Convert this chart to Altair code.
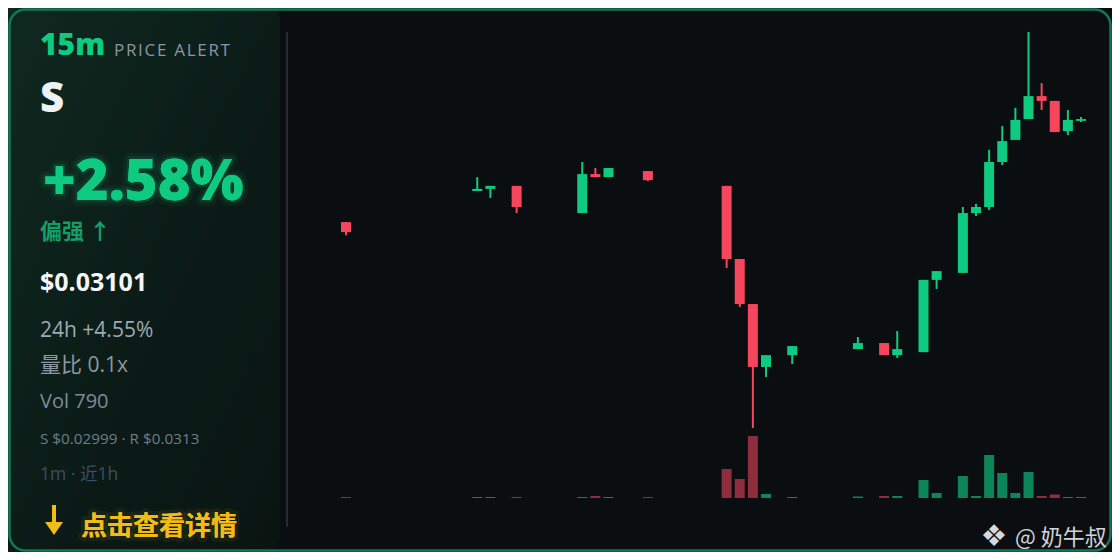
import altair as alt
import pandas as pd

# ---- data ----
idx = [0, 10, 11, 13, 18, 19, 20, 23, 29, 30, 31, 32, 34, 39, 41, 42, 44, 45,
       47, 48, 49, 50, 51, 52, 53, 54, 55, 56]
open_ = [0.030671, 0.030774, 0.030781, 0.030791, 0.030701, 0.030830, 0.030820, 0.030840,
         0.030791, 0.030549, 0.030400, 0.030192, 0.030231, 0.030251, 0.030271, 0.030231,
         0.030241, 0.030480, 0.030503, 0.030701, 0.030721, 0.030870, 0.030943, 0.031012,
         0.031088, 0.031072, 0.030972, 0.031006]
high = [0.030671, 0.030820, 0.030791, 0.030791, 0.030870, 0.030850, 0.030850, 0.030840,
        0.030791, 0.030549, 0.030400, 0.030231, 0.030261, 0.030291, 0.030271, 0.030311,
        0.030480, 0.030509, 0.030721, 0.030731, 0.030910, 0.030989, 0.031049, 0.031300,
        0.031131, 0.031072, 0.031042, 0.031019]
low = [0.030628, 0.030774, 0.030751, 0.030701, 0.030701, 0.030820, 0.030820, 0.030807,
       0.030519, 0.030390, 0.029990, 0.030159, 0.030202, 0.030251, 0.030231, 0.030222,
       0.030241, 0.030450, 0.030503, 0.030691, 0.030711, 0.030860, 0.030943, 0.031012,
       0.031042, 0.030969, 0.030959, 0.031002]
close = [0.030638, 0.030781, 0.030791, 0.030721, 0.030830, 0.030820, 0.030850, 0.030810,
         0.030549, 0.030400, 0.030192, 0.030231, 0.030261, 0.030271, 0.030231, 0.030251,
         0.030480, 0.030509, 0.030701, 0.030721, 0.030870, 0.030939, 0.031009, 0.031088,
         0.031072, 0.030969, 0.031009, 0.031012]
volume = [100, 100, 100, 100, 100, 200, 100, 100, 2900, 1900, 6200, 400, 100, 150, 200, 200,
          1800, 500, 2200, 200, 4300, 2500, 500, 2600, 200, 350, 100, 100]

symbol = "S"
timeframe = "15m"
change_pct = "+2.58%"
bias = "偏强 ↑"
price = "$0.03101"
change_24h = "24h +4.55%"
vol_ratio = "量比 0.1x"
vol_text = "Vol 790"
sr_text = "S $0.02999 · R $0.0313"
window_text = "1m · 近1h"
cta = "点击查看详情"
watermark = "@ 奶牛叔"

price_min, price_max = 0.02999, 0.0313

df = pd.DataFrame({"i": idx, "open": open_, "high": high, "low": low,
                   "close": close, "vol": volume})
one = pd.DataFrame({"k": [0]})

GREEN = "#0ecb81"
RED = "#f6465d"
GREEN_V = "#0d855a"
RED_V = "#8f2c3d"
YELLOW = "#f3bb15"
LATIN = "Open Sans, Noto Sans CJK SC, sans-serif"
CJK = "Noto Sans CJK SC, Open Sans, sans-serif"

xs = alt.Scale(domain=[0, 56], range=[338, 1073], zero=False, nice=False, padding=0)
ys = alt.Scale(domain=[price_min, price_max], range=[420, 24], zero=False, nice=False)
vs = alt.Scale(domain=[0, 6200], range=[490, 428], zero=False, nice=False)

up = "datum.close >= datum.open"

card = alt.Chart(one).mark_rect(
    cornerRadius=20,
    fill=alt.Gradient(gradient="linear",
                      stops=[alt.GradientStop(color="#0f2920", offset=0),
                             alt.GradientStop(color="#0b1a16", offset=0.6),
                             alt.GradientStop(color="#0a1512", offset=1)],
                      x1=0, y1=0, x2=1, y2=1),
).encode(x=alt.value(-8), x2=alt.value(272), y=alt.value(-8), y2=alt.value(548))

frame = alt.Chart(one).mark_rect(
    cornerRadius=16, fillOpacity=0, stroke="#147652", strokeWidth=2.5,
).encode(x=alt.value(1.5), x2=alt.value(1102.5), y=alt.value(1.5), y2=alt.value(542.5))

divider = alt.Chart(one).mark_rule(color="#262b30", strokeWidth=2).encode(
    x=alt.value(279), y=alt.value(24), y2=alt.value(519))

wick = alt.Chart(df).mark_rule(strokeWidth=2).encode(
    x=alt.X("i:Q", scale=xs, axis=None),
    y=alt.Y("low:Q", scale=ys, axis=None),
    y2="high:Q",
    color=alt.condition(up, alt.value(GREEN), alt.value(RED)),
)
body = alt.Chart(df).mark_bar(size=10).encode(
    x=alt.X("i:Q", scale=xs, axis=None),
    y=alt.Y("open:Q", scale=ys, axis=None),
    y2="close:Q",
    color=alt.condition(up, alt.value(GREEN), alt.value(RED)),
)
vol = alt.Chart(df).mark_bar(size=10).encode(
    x=alt.X("i:Q", scale=xs, axis=None),
    y=alt.Y("vol:Q", scale=vs, axis=None),
    color=alt.condition(up, alt.value(GREEN_V), alt.value(RED_V)),
)


def txt(s, x, y, size, color, weight="normal", font=LATIN, align="left",
        baseline="alphabetic", **kw):
    return alt.Chart(one).mark_text(
        text=s, fontSize=size, color=color, fontWeight=weight, font=font,
        align=align, baseline=baseline, **kw
    ).encode(x=alt.value(x), y=alt.value(y))


arrow_shaft = alt.Chart(one).mark_rule(color=YELLOW, strokeWidth=4).encode(
    x=alt.value(46), y=alt.value(497), y2=alt.value(515))
arrow_head = alt.Chart(one).mark_point(
    shape="M -1 -0.72 L 1 -0.72 L 0 0.72 Z", size=324, filled=True,
    color=YELLOW, opacity=1,
).encode(x=alt.value(46), y=alt.value(520.5))

texts = [
    txt(timeframe, 32, 47, 30, GREEN, weight=800),
    txt("P\u200aR\u200aI\u200aC\u200aE\u200a \u200aA\u200aL\u200aE\u200aR\u200aT", 106, 48, 17, "#8b97a2"),
    txt(symbol, 32, 104, 42, "#eef2f3", weight=800),
    txt(change_pct, 35, 192, 56, GREEN, weight=800, stroke=GREEN, strokeWidth=12,
        strokeOpacity=0.06, strokeJoin="round"),
    txt(change_pct, 35, 192, 56, GREEN, weight=800, stroke=GREEN, strokeWidth=5,
        strokeOpacity=0.12, strokeJoin="round"),
    txt(bias, 32, 231, 22, "#139d68", weight="bold", font=CJK),
    txt(price, 32, 283, 25, "#f4f6f7", weight="bold"),
    txt(change_24h, 32, 329, 21, "#9ea9b4"),
    txt(vol_ratio, 32, 364, 21, "#8c98a3"),
    txt(vol_text, 32, 400, 20, "#7e8b98"),
    txt(sr_text, 32, 436, 15.3, "#6d7c8b"),
    txt(window_text, 32, 472, 17.5, "#3b4e63"),
    txt(cta, 73, 527, 26, YELLOW, weight="bold", font=CJK, stroke=YELLOW,
        strokeWidth=8, strokeOpacity=0.08, strokeJoin="round"),
    txt(cta, 73, 527, 26, YELLOW, weight="bold", font=CJK),
    txt("❖", 986, 529, 30, "#d6d9db", font="DejaVu Sans", align="center", baseline="middle"),
    txt(watermark, 1007, 537, 22, "#d0d4d7", font=CJK),
]

chart = alt.layer(card, frame, divider, vol, wick, body, arrow_shaft, arrow_head,
                  *texts).resolve_scale(
    y="independent"
).properties(
    width=1104, height=544, background="#0b0e11", padding=0,
    autosize=alt.AutoSizeParams(type="none"),
).configure_view(stroke=None)

chart.save("out.html", embed_options={"renderer": "svg", "actions": False})
